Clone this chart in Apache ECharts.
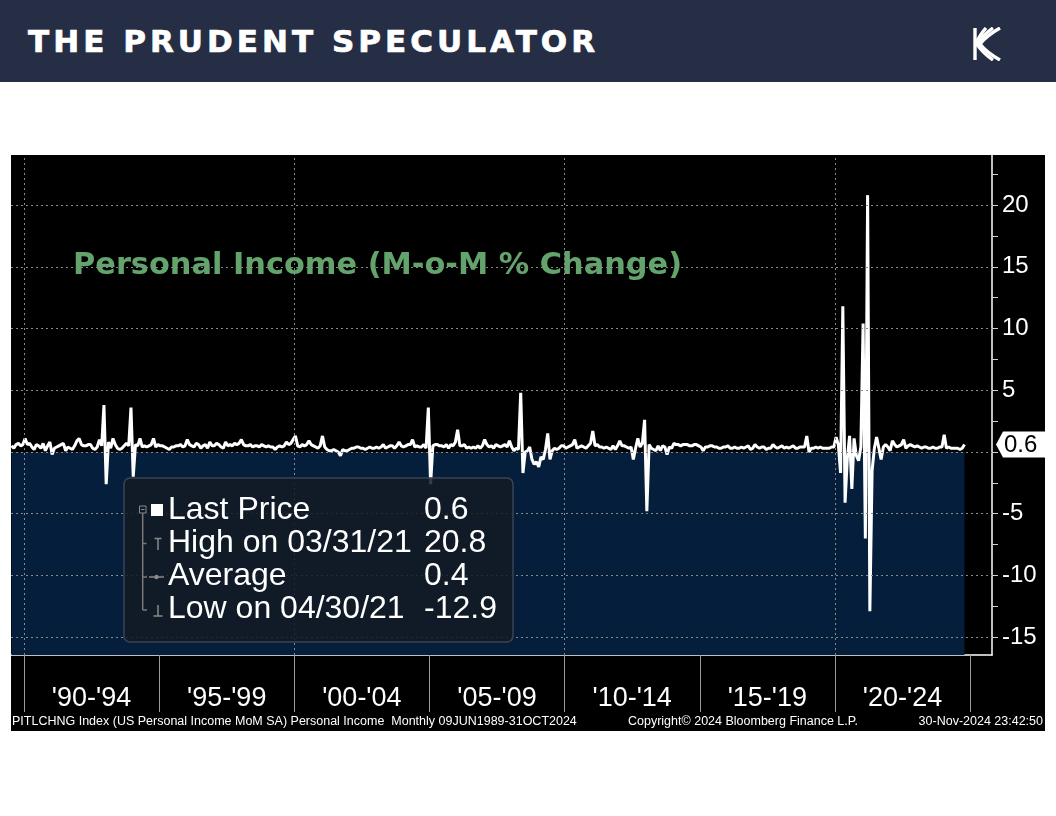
<!DOCTYPE html>
<html>
<head>
<meta charset="utf-8">
<script src="https://cdn.jsdelivr.net/npm/echarts@6/dist/echarts.min.js"></script>
<style>
html,body{margin:0;padding:0;background:#fff;}
#wrap{position:relative;width:1056px;height:816px;overflow:hidden;}
#chart{position:absolute;left:0;top:0;width:1056px;height:816px;}
#hdr{position:absolute;left:0;top:0;width:1056px;height:82px;background:#252e44;}
#hdrTitle{position:absolute;left:28px;top:22px;color:#fff;font-weight:bold;font-size:31px;font-family:"DejaVu Sans";white-space:nowrap;line-height:38px;-webkit-text-stroke:0.7px #fff;}
#logo{position:absolute;left:972px;top:27px;}
</style>
</head>
<body>
<div id="wrap">
  <div id="chart"></div>
  <div id="hdr">
    <div id="hdrTitle">THE PRUDENT SPECULATOR</div>
    <svg id="logo" width="30" height="34" viewBox="0 0 30 34">
      <g fill="none" stroke="#fff" stroke-width="3.4">
        <path d="M3 1 V33"/>
        <path d="M28 1 Q14 9 8 17 Q14 25 28 33"/>
        <path d="M21 1 Q10 9 5 17 Q10 25 21 33"/>
        <path d="M14 1 Q7 9 4 17"/>
      </g>
    </svg>
  </div>
</div>
<script>
// ---------- data (US Personal Income, M-o-M % change, monthly, from Jul 1989) ----------
const startYear = 1989, startMonth = 7;
const y1989 = [0.5, 0.3, 0.6, 0.7, 0.5, 0.6];
const y1990 = [1.1, 0.6, 0.7, 0.4, 0.2, 0.6, 0.5, 0.3, 0.7, 0.1, 0.5, 0.8];
const y1991 = [-0.2, 0.3, 0.4, 0.5, 0.6, 0.7, 0.1, 0.4, 0.3, 0.2, 0.5, 0.9];
const y1992 = [1.1, 0.6, 0.5, 0.5, 0.6, 0.6, 0.3, 0.2, 0.4, 1.0, 0.5, 3.8];
const y1993 = [-2.6, 0.8, 0.3, 1.1, 0.6, 0.3, 0.2, 0.3, 0.5, 0.7, 0.5, 3.6];
const y1994 = [-2.0, 0.6, 0.5, 1.1, 0.4, 0.5, 0.4, 0.5, 0.6, 1.1, 0.4, 0.6];
const y1995 = [0.5, 0.5, 0.4, 0.3, 0.2, 0.4, 0.4, 0.5, 0.5, 0.6, 0.4, 0.5];
const y1996 = [1.0, 0.6, 0.5, 0.4, 0.7, 0.6, 0.3, 0.5, 0.6, 0.3, 0.8, 0.5];
const y1997 = [0.5, 0.7, 0.6, 0.4, 0.3, 0.8, 0.5, 0.6, 0.5, 0.7, 0.6, 0.7];
const y1998 = [1.0, 0.6, 0.5, 0.5, 0.6, 0.4, 0.5, 0.5, 0.4, 0.6, 0.5, 0.4];
const y1999 = [0.5, 0.4, 0.4, 0.2, 0.4, 0.5, 0.4, 0.5, 0.8, 0.6, 0.7, 1.0];
const y2000 = [1.3, 0.5, 0.4, 0.6, 0.5, 0.6, 0.9, 0.6, 0.5, 0.4, 0.3, 0.5];
const y2001 = [1.3, 0.4, 0.2, 0.1, 0.1, 0.2, 0.1, 0.0, -0.3, 0.2, 0.1, 0.1];
const y2002 = [0.2, 0.3, 0.3, 0.4, 0.4, 0.3, 0.3, 0.2, 0.3, 0.4, 0.3, 0.3];
const y2003 = [0.4, 0.3, 0.4, 0.6, 0.3, 0.4, 0.5, 0.5, 0.3, 0.5, 0.8, 0.5];
const y2004 = [0.4, 0.5, 0.6, 0.6, 1.0, 0.4, 0.5, 0.4, 0.4, 0.6, 0.3, 3.6];
const y2005 = [-2.6, 0.5, 0.6, 0.6, 0.5, 0.5, 0.4, 0.6, 0.3, 0.6, 0.5, 0.8];
const y2006 = [1.8, 0.5, 0.5, 0.6, 0.3, 0.4, 0.3, 0.4, 0.3, 0.5, 0.3, 0.5];
const y2007 = [1.0, 0.6, 0.4, 0.5, 0.3, 0.6, 0.5, 0.4, 0.5, 0.6, 0.4, 0.9];
const y2008 = [0.4, 0.1, 0.3, 0.2, 4.8, -1.7, 0.0, 0.1, 0.4, -0.6, -1.0, -0.8];
const y2009 = [-1.2, -0.4, -0.6, 0.2, 1.5, -0.6, 0.1, 0.3, 0.2, 0.3, 0.5, 0.5];
const y2010 = [0.3, 0.4, 0.5, 0.6, 1.0, 0.3, 0.4, 0.5, 0.4, 0.3, 0.5, 0.7];
const y2011 = [1.7, 0.5, 0.6, 0.4, 0.4, 0.3, 0.4, 0.3, 0.2, 0.5, 0.2, 0.5];
const y2012 = [0.9, 0.5, 0.5, 0.4, 0.3, 0.4, -0.6, 0.3, 1.1, 0.4, 0.7, 2.6];
const y2013 = [-4.8, 0.6, 0.3, 0.2, 0.1, 0.5, 0.1, 0.5, 0.4, -0.2, 0.4, 0.3];
const y2014 = [0.7, 0.6, 0.6, 0.5, 0.6, 0.6, 0.6, 0.5, 0.5, 0.6, 0.6, 0.5];
const y2015 = [0.4, 0.1, 0.4, 0.4, 0.5, 0.5, 0.4, 0.4, 0.3, 0.3, 0.4, 0.4];
const y2016 = [0.5, 0.3, 0.3, 0.4, 0.3, 0.3, 0.4, 0.3, 0.4, 0.5, 0.2, 0.3];
const y2017 = [0.6, 0.4, 0.3, 0.4, 0.4, 0.2, 0.3, 0.3, 0.6, 0.4, 0.3, 0.4];
const y2018 = [0.5, 0.3, 0.4, 0.3, 0.4, 0.5, 0.3, 0.3, 0.4, 0.4, 0.4, 1.3];
const y2019 = [0.0, 0.3, 0.3, 0.4, 0.3, 0.4, 0.3, 0.3, 0.3, 0.3, 0.4, 0.4];
const y2020 = [1.2, 0.6, -1.7, 11.8, -4.1, -0.5, 1.3, -3.0, 1.1, -0.3, -0.7, 0.4];
const y2021 = [10.4, -7.0, 20.8, -12.9, -1.5, 0.3, 1.2, 0.3, -0.6, 0.4, 0.6, 0.4];
const y2022 = [0.1, 0.9, 0.6, 0.4, 0.5, 0.6, 1.0, 0.3, 0.5, 0.6, 0.5, 0.4];
const y2023 = [0.5, 0.4, 0.3, 0.4, 0.4, 0.3, 0.3, 0.4, 0.3, 0.3, 0.4, 0.4];
const y2024 = [1.4, 0.3, 0.4, 0.3, 0.3, 0.3, 0.3, 0.2, 0.3, 0.6];

// ---------- axis ticks / labels ----------
const periodBounds = [1990, 1995, 2000, 2005, 2010, 2015, 2020, 2025];
const periodMids = [1992.5, 1997.5, 2002.5, 2007.5, 2012.5, 2017.5, 2022.5];
const periodLabels = ["'90-'94", "'95-'99", "'00-'04", "'05-'09", "'10-'14", "'15-'19", "'20-'24"];
const decadeGrid = [1990, 2000, 2010, 2020];
const yGridVals = [-15, -10, -5, 0, 5, 10, 15, 20];
const yLabelVals = [-15, -10, -5, 5, 10, 15, 20];
const yTickVals = [-15, -12.5, -10, -7.5, -5, -2.5, 0, 2.5, 5, 7.5, 10, 12.5, 15, 17.5, 20, 22.5];

// ---------- texts ----------
const chartTitle = 'Personal Income (M-o-M % Change)';
const legendLabels = ['Last Price', 'High on 03/31/21', 'Average', 'Low on 04/30/21'];
const legendValues = ['0.6', '20.8', '0.4', '-12.9'];
const footerLeft = 'PITLCHNG Index (US Personal Income MoM SA) Personal Income  Monthly 09JUN1989-31OCT2024';
const footerMid = 'Copyright\u00A9 2024 Bloomberg Finance L.P.';
const footerRight = '30-Nov-2024 23:42:50';

// ---------- build series ----------
const values = [].concat(y1989, y1990, y1991, y1992, y1993, y1994, y1995, y1996, y1997, y1998,
  y1999, y2000, y2001, y2002, y2003, y2004, y2005, y2006, y2007, y2008, y2009, y2010, y2011,
  y2012, y2013, y2014, y2015, y2016, y2017, y2018, y2019, y2020, y2021, y2022, y2023, y2024);
const seriesData = values.map(function (v, i) {
  const m = startMonth - 1 + i;
  const x = startYear + Math.floor(m / 12) + ((m % 12) + 0.5) / 12;
  return [x, v];
});
const firstX = seriesData[0][0];
const lastX = seriesData[seriesData.length - 1][0];
const lastVal = values[values.length - 1];

const X_MIN = 1989.52, X_MAX = 2025.81;
const Y_MIN = -16.44, Y_MAX = 24.05;

// header letter spacing so the brand spans its width
(function () {
  const el = document.getElementById('hdrTitle');
  const c = document.createElement('canvas').getContext('2d');
  c.font = 'bold 31px "DejaVu Sans"';
  const txt = el.textContent;
  const w = c.measureText(txt).width;
  const ls = (567 - w) / (txt.length - 1);
  el.style.letterSpacing = ls.toFixed(2) + 'px';
})();

const chart = echarts.init(document.getElementById('chart'), null, { renderer: 'canvas', width: 1056, height: 816 });

const gridLineStyle = { color: '#8a8a8a', width: 1, type: [2, 3] };
const markLineData = yGridVals.map(function (v) { return { yAxis: v }; })
  .concat(decadeGrid.map(function (v) { return { xAxis: v }; }));

const legendFont = 'Liberation Sans';
const rowsY = [510, 543, 576, 609];
const footStyle = { fill: '#fff', fontSize: 12.5, fontFamily: 'Liberation Sans', verticalAlign: 'middle' };
const gEls = [
  { type: 'rect', id: 'bg', z: -10, silent: true, shape: { x: 11, y: 155, width: 1034, height: 576 }, style: { fill: '#000' } },
  { type: 'text', id: 'title', z: 5, x: 73, y: 266, style: { text: chartTitle, fill: '#62a46c', fontSize: 30.4, fontWeight: 'bold', fontFamily: 'DejaVu Sans', align: 'left', verticalAlign: 'middle' } },
  { type: 'rect', id: 'lbox', z: 10, shape: { x: 124, y: 478, width: 389, height: 164, r: 6 }, style: { fill: 'rgba(20,27,36,0.86)', stroke: '#3a4452', lineWidth: 1.5 } },
  // legend tree icons
  { type: 'rect', z: 11, shape: { x: 139.5, y: 506, width: 6.5, height: 7 }, style: { fill: 'none', stroke: '#8a8a8a', lineWidth: 1 } },
  { type: 'line', z: 11, shape: { x1: 141, y1: 509.5, x2: 144.5, y2: 509.5 }, style: { stroke: '#8a8a8a', lineWidth: 1 } },
  { type: 'rect', z: 11, shape: { x: 151, y: 504, width: 12, height: 12 }, style: { fill: '#fff' } },
  { type: 'line', z: 11, shape: { x1: 142.7, y1: 513, x2: 142.7, y2: 610 }, style: { stroke: '#7a7a7a', lineWidth: 1.5 } },
  { type: 'line', z: 11, shape: { x1: 142.7, y1: 543.5, x2: 146.5, y2: 543.5 }, style: { stroke: '#7a7a7a', lineWidth: 1.5 } },
  { type: 'line', z: 11, shape: { x1: 142.7, y1: 577, x2: 147, y2: 577 }, style: { stroke: '#7a7a7a', lineWidth: 1.5 } },
  { type: 'line', z: 11, shape: { x1: 142.7, y1: 610, x2: 147, y2: 610 }, style: { stroke: '#7a7a7a', lineWidth: 1.5 } },
  { type: 'line', z: 11, shape: { x1: 154.5, y1: 538.5, x2: 161.5, y2: 538.5 }, style: { stroke: '#8a8a8a', lineWidth: 1.5 } },
  { type: 'line', z: 11, shape: { x1: 158, y1: 538.5, x2: 158, y2: 550 }, style: { stroke: '#8a8a8a', lineWidth: 1.5 } },
  { type: 'line', z: 11, shape: { x1: 149, y1: 577, x2: 164, y2: 577 }, style: { stroke: '#8a8a8a', lineWidth: 1.5 } },
  { type: 'circle', z: 11, shape: { cx: 156.5, cy: 577, r: 2.2 }, style: { fill: '#8a8a8a' } },
  { type: 'line', z: 11, shape: { x1: 158, y1: 605, x2: 158, y2: 616 }, style: { stroke: '#8a8a8a', lineWidth: 1.5 } },
  { type: 'line', z: 11, shape: { x1: 153.5, y1: 616, x2: 162.5, y2: 616 }, style: { stroke: '#8a8a8a', lineWidth: 1.5 } },
  // footer
  { type: 'text', z: 5, x: 12, y: 722, style: Object.assign({ text: footerLeft, align: 'left' }, footStyle) },
  { type: 'text', z: 5, x: 628, y: 722, style: Object.assign({ text: footerMid, align: 'left' }, footStyle) },
  { type: 'text', z: 5, x: 1043, y: 722, style: Object.assign({ text: footerRight, align: 'right' }, footStyle) }
];
legendLabels.forEach(function (t, i) {
  gEls.push({ type: 'text', z: 12, x: 168, y: rowsY[i], style: { text: t, fill: '#fff', fontSize: 32, fontFamily: legendFont, align: 'left', verticalAlign: 'middle' } });
  gEls.push({ type: 'text', z: 12, x: 424, y: rowsY[i], style: { text: legendValues[i], fill: '#fff', fontSize: 32, fontFamily: legendFont, align: 'left', verticalAlign: 'middle' } });
});

const option = {
  backgroundColor: '#fff',
  animation: false,
  grid: { left: 11, top: 155, width: 981, height: 500, containLabel: false, outerBoundsMode: 'none' },
  xAxis: {
    type: 'value', min: X_MIN, max: X_MAX,
    axisLine: { show: true, onZero: false, lineStyle: { color: '#fff', width: 1.5 } },
    axisTick: { show: true, customValues: periodBounds, length: 57, lineStyle: { color: '#9a9a9a', width: 1 } },
    axisLabel: {
      show: true, customValues: periodMids, color: '#fff', fontSize: 27, fontFamily: 'Liberation Sans', margin: 30,
      formatter: function (v) {
        let best = 0;
        periodMids.forEach(function (m, i) { if (Math.abs(m - v) < Math.abs(periodMids[best] - v)) best = i; });
        return periodLabels[best];
      }
    },
    splitLine: { show: false }
  },
  yAxis: {
    type: 'value', position: 'right', min: Y_MIN, max: Y_MAX,
    axisLine: { show: true, onZero: false, lineStyle: { color: '#fff', width: 1.5 } },
    axisTick: { show: true, customValues: yTickVals, length: 6, lineStyle: { color: '#d0d0d0', width: 1 } },
    axisLabel: { show: true, customValues: yLabelVals, color: '#fff', fontSize: 24, fontFamily: 'Liberation Sans', margin: 10 },
    splitLine: { show: false }
  },
  graphic: { elements: gEls },
  series: [
    {
      type: 'line', name: 'fill', data: [], z: 1, silent: true,
      markArea: {
        silent: true,
        itemStyle: { color: '#051e3c' },
        data: [[{ xAxis: firstX, yAxis: Y_MIN }, { xAxis: lastX, yAxis: 0 }]]
      }
    },
    {
      type: 'line', name: 'grid', data: [], z: 2, silent: true,
      markLine: {
        silent: true, symbol: ['none', 'none'], label: { show: false },
        lineStyle: gridLineStyle, data: markLineData
      }
    },
    {
      type: 'line', name: 'Personal Income', data: seriesData, z: 3,
      showSymbol: false, symbol: 'none', silent: true,
      lineStyle: { color: '#ffffff', width: 3 }
    }
  ]
};
chart.setOption(option);

// last-price tag on the right axis, positioned through the axis scale
const tagY = chart.convertToPixel({ yAxisIndex: 0 }, lastVal);
const axisX = chart.convertToPixel({ xAxisIndex: 0 }, X_MAX);
chart.setOption({
  graphic: {
    elements: [
      { type: 'polygon', id: 'tag', z: 20, shape: { points: [[axisX + 4, tagY], [axisX + 11, tagY - 13], [1045, tagY - 13], [1045, tagY + 13], [axisX + 11, tagY + 13]] }, style: { fill: '#fff' } },
      { type: 'text', id: 'tagText', z: 21, x: axisX + 12, y: tagY + 1, style: { text: lastVal.toFixed(1), fill: '#000', fontSize: 24, fontFamily: 'Liberation Sans', align: 'left', verticalAlign: 'middle' } }
    ]
  }
});
</script>
</body>
</html>
